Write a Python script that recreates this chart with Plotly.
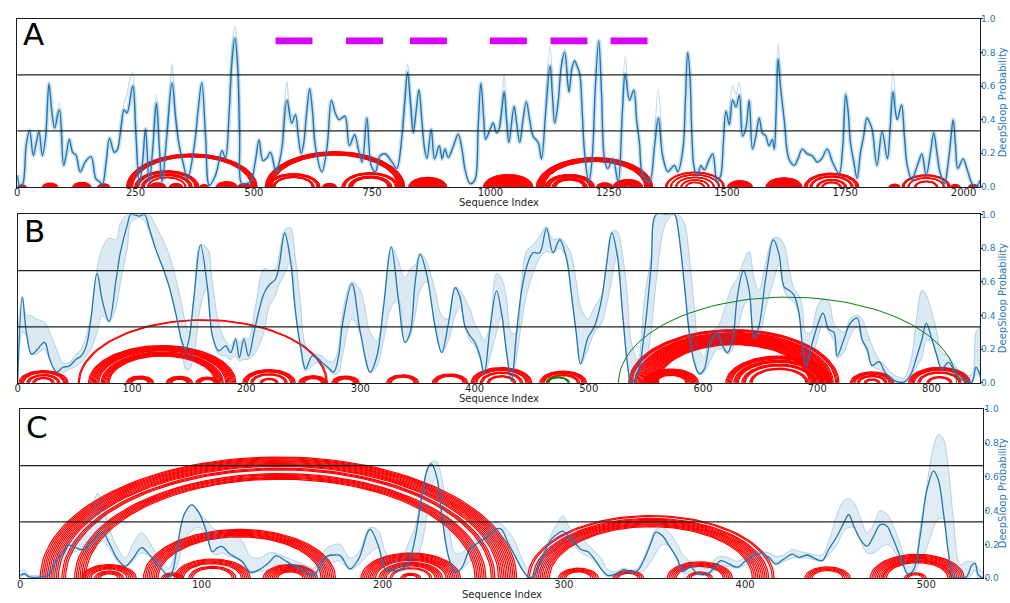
import numpy as np
import plotly.graph_objects as go

BLUE = "#1f77b4"
FONT = "DejaVu Sans"

# ---------------- Panel A ----------------
A_len = 2035
A_pos = [0, 6, 12, 19, 26, 34, 40, 46, 53, 60, 67, 73, 79, 89, 98, 104, 110, 117, 124, 133,
         144, 156, 166, 174, 180, 188, 195, 205, 212, 219, 226, 232, 244, 251, 258, 265, 271, 279, 287, 294,
         300, 306, 316, 327, 335, 342, 350, 360, 374, 382, 390, 398, 406, 419, 433, 440, 448, 454, 460, 466,
         470, 474, 483, 493, 503, 511, 519, 527, 535, 547, 554, 560, 570, 580, 588, 594, 600, 605, 612, 618,
         624, 630, 644, 655, 664, 672, 680, 686, 693, 702, 713, 721, 729, 739, 748, 757, 767, 778, 792, 802,
         813, 819, 825, 831, 837, 843, 849, 855, 861, 866, 875, 882, 892, 898, 904, 911, 922, 932, 941, 946,
         957, 967, 974, 980, 986, 990, 999, 1006, 1013, 1018, 1024, 1029, 1034, 1039, 1050, 1055, 1062, 1069, 1076, 1083,
         1090, 1101, 1108, 1117, 1126, 1131, 1136, 1143, 1150, 1157, 1166, 1172, 1178, 1183, 1189, 1194, 1199, 1208, 1215, 1222,
         1229, 1235, 1241, 1248, 1259, 1270, 1279, 1285, 1294, 1303, 1309, 1315, 1322, 1336, 1347, 1355, 1364, 1375, 1382, 1389,
         1396, 1407, 1412, 1417, 1422, 1426, 1431, 1438, 1445, 1452, 1463, 1470, 1479, 1487, 1492, 1498, 1505, 1512, 1519, 1526,
         1533, 1540, 1547, 1554, 1561, 1568, 1575, 1582, 1589, 1596, 1600, 1604, 1608, 1613, 1621, 1631, 1642, 1650, 1659, 1670,
         1680, 1691, 1700, 1712, 1723, 1737, 1745, 1751, 1756, 1761, 1768, 1775, 1782, 1789, 1796, 1802, 1807, 1817, 1828, 1839,
         1845, 1851, 1856, 1860, 1869, 1875, 1881, 1891, 1898, 1905, 1912, 1921, 1930, 1937, 1943, 1950, 1960, 1966, 1972, 1978,
         1983, 1988, 1999, 2007, 2018, 2027, 2035]
A_prob = [0.07, 0.0, 0.02, 0.25, 0.336, 0.186, 0.26, 0.33, 0.186, 0.30, 0.614, 0.45, 0.35, 0.458, 0.128, 0.20, 0.283, 0.206, 0.19, 0.09,
          0.15, 0.18, 0.05, 0.03, 0.015, 0.15, 0.29, 0.206, 0.225, 0.35, 0.458, 0.44, 0.60, 0.30, 0.02, 0.15, 0.345, 0.03, 0.25, 0.497,
          0.25, 0.03, 0.30, 0.617, 0.40, 0.25, 0.15, 0.05, 0.24, 0.45, 0.62, 0.30, 0.01, 0.07, 0.215, 0.17, 0.45, 0.75, 0.885, 0.70,
          0.30, 0.02, 0.02, 0.03, 0.15, 0.28, 0.157, 0.17, 0.206, 0.09, 0.15, 0.245, 0.516, 0.38, 0.43, 0.30, 0.20, 0.25, 0.45, 0.584,
          0.45, 0.243, 0.09, 0.243, 0.516, 0.44, 0.40, 0.41, 0.42, 0.245, 0.31, 0.225, 0.148, 0.41, 0.128, 0.09, 0.186, 0.196, 0.148, 0.11,
          0.30, 0.50, 0.68, 0.50, 0.322, 0.45, 0.578, 0.40, 0.225, 0.17, 0.342, 0.167, 0.245, 0.167, 0.225, 0.176, 0.245, 0.313, 0.206, 0.109,
          0.02, 0.04, 0.35, 0.617, 0.40, 0.283, 0.34, 0.38, 0.322, 0.34, 0.45, 0.565, 0.40, 0.264, 0.478, 0.39, 0.264, 0.40, 0.507, 0.40,
          0.303, 0.264, 0.167, 0.45, 0.72, 0.55, 0.38, 0.50, 0.72, 0.80, 0.565, 0.70, 0.75, 0.72, 0.67, 0.45, 0.206, 0.03, 0.167, 0.60,
          0.87, 0.55, 0.167, 0.109, 0.167, 0.03, 0.45, 0.672, 0.516, 0.575, 0.40, 0.264, 0.07, 0.03, 0.245, 0.41, 0.186, 0.09, 0.11, 0.128,
          0.09, 0.225, 0.50, 0.80, 0.65, 0.30, 0.11, 0.07, 0.128, 0.10, 0.167, 0.196, 0.03, 0.07, 0.25, 0.45, 0.37, 0.516, 0.476, 0.546,
          0.303, 0.35, 0.516, 0.225, 0.30, 0.41, 0.32, 0.303, 0.245, 0.283, 0.225, 0.45, 0.76, 0.60, 0.40, 0.167, 0.128, 0.167, 0.225, 0.196,
          0.186, 0.148, 0.167, 0.225, 0.148, 0.08, 0.25, 0.546, 0.45, 0.264, 0.15, 0.05, 0.20, 0.303, 0.41, 0.38, 0.34, 0.128, 0.33, 0.167,
          0.35, 0.565, 0.45, 0.40, 0.487, 0.30, 0.128, 0.04, 0.09, 0.148, 0.196, 0.07, 0.20, 0.322, 0.22, 0.09, 0.02, 0.11, 0.25, 0.40,
          0.25, 0.11, 0.167, 0.11, 0.02, 0.0, 0.04]
# alternative-model peaks that rise above the consensus line
A_alt_x = [80, 89, 95, None, 219, 226, 232, 238, 244, 250, 256, None, 287, 294, 300, None,
           316, 322, 327, 333, 340, None, 448, 454, 460, 466, 472, None, 560, 565, 570, 576, 582, None,
           813, 819, 825, 831, 837, None, 1018, 1024, 1029, 1034, 1040, None, 1117, 1126, 1131, None,
           1150, 1157, 1163, None, 1279, 1285, 1290, None, 1347, 1355, 1362, None,
           1505, 1512, 1519, 1526, 1533, None, 1604, 1608, 1613, None, 1745, 1751, 1756, None, 1845, 1851, 1856]
A_alt_y = [0.36, 0.50, 0.25, None, 0.30, 0.50, 0.55, 0.64, 0.68, 0.40, 0.05, None, 0.28, 0.55, 0.28, None,
           0.32, 0.55, 0.73, 0.50, 0.30, None, 0.50, 0.82, 0.96, 0.78, 0.30, None, 0.30, 0.50, 0.63, 0.45, 0.42, None,
           0.35, 0.55, 0.73, 0.55, 0.35, None, 0.36, 0.50, 0.67, 0.45, 0.27, None, 0.50, 0.84, 0.60, None,
           0.74, 0.82, 0.60, None, 0.50, 0.78, 0.60, None, 0.30, 0.58, 0.25, None,
           0.40, 0.60, 0.55, 0.62, 0.35, None, 0.50, 0.86, 0.65, None, 0.30, 0.57, 0.45, None, 0.40, 0.69, 0.50]
# helices: (5' start, 3' end, stacked pairs)
A_helices = [(1, 19, 8), (53, 86, 15), (117, 156, 18), (170, 196, 12),
             (231, 507, 14), (248, 384, 10), (262, 370, 8), (275, 357, 4), (279, 314, 15), (321, 350, 13),
             (385, 405, 9), (420, 465, 20), (466, 494, 12),
             (524, 819, 16), (528, 640, 8), (540, 628, 6), (645, 675, 13), (686, 806, 8), (700, 792, 10),
             (827, 908, 38), (985, 1090, 50),
             (1097, 1343, 18), (1115, 1220, 12), (1130, 1205, 10), (1224, 1259, 15), (1259, 1322, 28),
             (1370, 1495, 5), (1380, 1485, 4), (1391, 1474, 4), (1402, 1463, 4), (1412, 1453, 4),
             (1501, 1554, 24), (1582, 1659, 36),
             (1663, 1779, 8), (1675, 1767, 6), (1689, 1753, 6), (1700, 1742, 5),
             (1842, 1866, 10), (1870, 1972, 6), (1882, 1960, 4), (1896, 1946, 5),
             (1972, 1993, 9), (2010, 2031, 9)]
A_motif_start = [546, 695, 830, 999, 1127, 1254]
A_motif_end = [624, 773, 908, 1077, 1205, 1332]
A_motif_y = 0.868

# ---------------- Panel B ----------------
B_len = 842.6
B_pos = [0, 4, 7.5, 12, 16, 23.5, 28, 34, 39.5, 45, 51, 55.5, 60, 64, 69.4, 74, 80, 86, 90, 96,
         99, 106.5, 111, 115, 121, 127, 132.6, 138.4, 144, 147, 150, 154, 160, 166, 170.4, 176, 182, 186.4, 190.8, 194,
         198, 202, 208, 215.5, 220, 225.7, 228.6, 233.8, 238.8, 243, 247.5, 252, 257.7, 262, 266.5, 272, 276.6, 281, 284, 292.6,
         300, 308.6, 314.5, 320.3, 327, 333.4, 339, 343.6, 348, 352.3, 358, 365.4, 371.2, 377, 383, 387.2, 391.6, 396, 400.3, 404.7,
         408.4, 413.4, 419.2, 423.6, 428, 432.3, 436.7, 441, 445.4, 451.2, 457, 462.9, 468.7, 474.5, 480.3, 484.7, 489, 492.8, 499.2, 505,
         511, 515.2, 520.2, 524.8, 529.8, 534, 537, 543, 548.7, 554.5, 559, 567.6, 575, 578, 583.6, 588, 592.4, 596.7, 601, 605.5,
         610, 612.7, 617, 621.5, 626, 630, 635.4, 640.4, 644.7, 649, 655, 661.6, 666.6, 671, 675.3, 679.7, 684, 687, 690, 694.2,
         700, 705, 710.2, 714.6, 717.5, 723.3, 729, 735, 739.3, 743.7, 748, 754, 759.7, 767, 775.7, 781.5, 787.3, 791.7, 795.5, 800.4,
         804.8, 809, 815, 820.8, 828, 835.3, 839, 842.6]
B_prob = [0.02, 0.51, 0.30, 0.17, 0.19, 0.24, 0.14, 0.064, 0.093, 0.10, 0.14, 0.16, 0.22, 0.375, 0.65, 0.49, 0.365, 0.608, 0.78, 0.94,
          1.0, 0.99, 1.0, 0.92, 0.79, 0.685, 0.57, 0.41, 0.24, 0.20, 0.26, 0.49, 0.82, 0.57, 0.28, 0.19, 0.22, 0.18, 0.26, 0.15,
          0.26, 0.16, 0.336, 0.53, 0.58, 0.617, 0.685, 0.89, 0.724, 0.433, 0.22, 0.083, 0.16, 0.15, 0.12, 0.09, 0.064, 0.16, 0.336, 0.588,
          0.297, 0.064, 0.16, 0.452, 0.806, 0.49, 0.24, 0.30, 0.60, 0.763, 0.647, 0.336, 0.18, 0.35, 0.565, 0.51, 0.336, 0.28, 0.24, 0.16,
          0.054, 0.316, 0.546, 0.414, 0.18, 0.01, 0.297, 0.54, 0.685, 0.773, 0.773, 0.918, 0.773, 0.85, 0.744, 0.53, 0.297, 0.113, 0.268, 0.336,
          0.49, 0.685, 0.89, 0.763, 0.394, 0.103, 0.0, 0.064, 0.30, 0.685, 1.0, 1.0, 1.0, 0.92, 0.588, 0.297, 0.122, 0.054, 0.08, 0.22,
          0.28, 0.297, 0.22, 0.18, 0.26, 0.51, 0.666, 0.55, 0.268, 0.336, 0.627, 0.85, 0.763, 0.57, 0.55, 0.52, 0.414, 0.22, 0.103, 0.20,
          0.336, 0.414, 0.316, 0.30, 0.16, 0.258, 0.355, 0.384, 0.258, 0.20, 0.103, 0.126, 0.06, 0.015, 0.005, 0.045, 0.16, 0.258, 0.355, 0.258,
          0.16, 0.083, 0.122, 0.06, 0.015, 0.005, 0.093, 0.045]
B_low = [0.0, 0.30, 0.28, 0.17, 0.17, 0.20, 0.14, 0.06, 0.06, 0.08, 0.10, 0.12, 0.16, 0.20, 0.30, 0.40, 0.36, 0.45, 0.60, 0.80,
         0.95, 0.98, 0.96, 0.90, 0.79, 0.68, 0.57, 0.41, 0.20, 0.08, 0.08, 0.15, 0.45, 0.57, 0.28, 0.17, 0.16, 0.14, 0.16, 0.13,
         0.14, 0.14, 0.18, 0.30, 0.45, 0.52, 0.58, 0.65, 0.72, 0.43, 0.20, 0.07, 0.10, 0.12, 0.10, 0.08, 0.05, 0.06, 0.15, 0.38,
         0.29, 0.06, 0.10, 0.25, 0.45, 0.49, 0.24, 0.28, 0.40, 0.55, 0.60, 0.33, 0.18, 0.25, 0.40, 0.45, 0.33, 0.25, 0.22, 0.14,
         0.05, 0.15, 0.30, 0.40, 0.18, 0.01, 0.15, 0.35, 0.52, 0.65, 0.74, 0.78, 0.77, 0.80, 0.74, 0.53, 0.29, 0.11, 0.20, 0.30,
         0.35, 0.45, 0.62, 0.76, 0.39, 0.10, 0.0, 0.04, 0.10, 0.30, 0.60, 0.95, 1.0, 0.92, 0.58, 0.29, 0.11, 0.05, 0.06, 0.12,
         0.18, 0.20, 0.20, 0.17, 0.20, 0.30, 0.45, 0.50, 0.26, 0.28, 0.45, 0.60, 0.70, 0.55, 0.50, 0.48, 0.40, 0.20, 0.08, 0.15,
         0.25, 0.35, 0.30, 0.25, 0.15, 0.18, 0.28, 0.33, 0.25, 0.18, 0.10, 0.08, 0.05, 0.01, 0.0, 0.03, 0.10, 0.15, 0.25, 0.25,
         0.16, 0.08, 0.08, 0.05, 0.01, 0.0, 0.05, 0.03]
B_high = [0.30, 0.51, 0.40, 0.40, 0.38, 0.36, 0.30, 0.20, 0.12, 0.12, 0.17, 0.20, 0.28, 0.40, 0.68, 0.80, 0.86, 0.85, 0.95, 1.0,
          1.0, 1.0, 1.0, 1.0, 0.93, 0.85, 0.76, 0.62, 0.45, 0.35, 0.30, 0.50, 0.82, 0.80, 0.60, 0.35, 0.25, 0.22, 0.27, 0.24,
          0.27, 0.26, 0.45, 0.68, 0.67, 0.68, 0.75, 0.91, 0.92, 0.75, 0.48, 0.22, 0.17, 0.17, 0.16, 0.13, 0.13, 0.22, 0.40, 0.60,
          0.55, 0.30, 0.25, 0.47, 0.81, 0.72, 0.62, 0.68, 0.70, 0.77, 0.72, 0.55, 0.40, 0.38, 0.57, 0.55, 0.50, 0.44, 0.35, 0.30,
          0.25, 0.34, 0.65, 0.62, 0.50, 0.30, 0.30, 0.60, 0.78, 0.82, 0.87, 0.93, 0.85, 0.86, 0.82, 0.76, 0.60, 0.45, 0.38, 0.45,
          0.52, 0.70, 0.90, 0.90, 0.75, 0.50, 0.25, 0.14, 0.50, 0.75, 1.0, 1.0, 1.0, 1.0, 0.95, 0.75, 0.45, 0.20, 0.15, 0.30,
          0.32, 0.33, 0.40, 0.50, 0.58, 0.62, 0.72, 0.78, 0.62, 0.55, 0.72, 0.86, 0.86, 0.82, 0.68, 0.56, 0.52, 0.45, 0.30, 0.30,
          0.45, 0.50, 0.48, 0.35, 0.33, 0.30, 0.38, 0.40, 0.38, 0.30, 0.22, 0.14, 0.10, 0.05, 0.03, 0.12, 0.40, 0.55, 0.52, 0.42,
          0.30, 0.18, 0.16, 0.10, 0.05, 0.05, 0.30, 0.33]
B_helices = [(1, 44, 5), (8, 37, 3), (13, 32, 3), (53, 271, 2), (62, 191, 10), (73, 180, 8),
             (95, 119, 6), (130, 153, 6), (156, 176, 5), (197, 243, 5), (204, 236, 3), (212, 228, 3),
             (246, 271, 6), (275, 299, 6), (323, 351, 5), (363, 394, 5),
             (397, 450, 6), (405, 442, 3), (411, 436, 3), (457, 498, 5), (463, 492, 3),
             (535, 719, 4), (540, 714, 22), (548, 596, 8), (556, 588, 4),
             (620, 713, 6), (627, 706, 5), (634, 699, 4), (641, 692, 3),
             (729, 767, 5), (735, 761, 3), (741, 755, 3), (780, 834, 6), (788, 826, 3), (796, 818, 3)]
B_alt_helices = [(463, 483, 2)]
B_long_helix = [(526, 822, 1)]

# ---------------- Panel C ----------------
C_len = 531.5
C_pos = [0, 2.4, 5, 10.6, 15.2, 19.8, 23.5, 27, 30.8, 35.4, 39, 42.7, 45.5, 49, 53.7, 58, 62, 67, 71, 74.8,
         78.5, 82, 84, 86.7, 90.4, 94.6, 98.7, 102.3, 106, 108.8, 111.5, 115, 118.8, 122.5, 127, 131.7, 137, 141.2, 145.4, 150,
         154.6, 159.2, 162, 165.6, 169.3, 173.9, 176.6, 182, 186.7, 193, 197.7, 201.3, 206, 210.5, 214, 217.8, 221.5, 224.8, 227, 229.8,
         232.5, 236.2, 239.9, 243.5, 248.1, 252.7, 258.2, 262.8, 265.5, 269.2, 272.9, 277.5, 281.1, 283.9, 288.5, 293, 296.7, 299.5, 303.1, 306.8,
         309.5, 313.2, 316.9, 320.6, 324.2, 328.8, 333, 337, 340.7, 344.4, 348.1, 350.8, 354.5, 358.2, 362.7, 365.5, 370, 373.8, 379.3, 383.9,
         386.6, 391.2, 395.8, 400.4, 405, 408.6, 413.2, 416.9, 421.5, 426, 429.7, 434.3, 438, 442.5, 446.2, 450.8, 454.5, 457.2, 460, 463.6,
         467.3, 471, 474.6, 478.3, 481, 484.7, 487.5, 489.7, 493, 496.6, 500.3, 504, 506.7, 509.5, 512.2, 515, 518.7, 522.3, 525, 526.9,
         528.7, 531.5]
C_prob = [0.017, 0.027, 0.008, 0.008, 0.017, 0.10, 0.15, 0.196, 0.18, 0.17, 0.21, 0.25, 0.273, 0.21, 0.114, 0.072, 0.114, 0.182, 0.143, 0.095,
          0.05, 0.008, 0.04, 0.19, 0.376, 0.434, 0.386, 0.29, 0.157, 0.18, 0.188, 0.15, 0.124, 0.10, 0.037, 0.05, 0.09, 0.134, 0.11, 0.08,
          0.06, 0.027, 0.017, 0.075, 0.13, 0.138, 0.134, 0.056, 0.114, 0.289, 0.19, 0.056, 0.046, 0.056, 0.085, 0.23, 0.48, 0.647, 0.676, 0.60,
          0.386, 0.134, 0.037, 0.06, 0.172, 0.21, 0.25, 0.293, 0.29, 0.21, 0.134, 0.045, 0.002, 0.027, 0.134, 0.23, 0.265, 0.279, 0.24, 0.20,
          0.17, 0.157, 0.114, 0.056, 0.017, 0.027, 0.052, 0.037, 0.046, 0.114, 0.21, 0.273, 0.25, 0.19, 0.114, 0.04, 0.066, 0.027, 0.027, 0.075,
          0.105, 0.085, 0.066, 0.105, 0.138, 0.149, 0.124, 0.085, 0.114, 0.143, 0.124, 0.138, 0.12, 0.105, 0.172, 0.25, 0.328, 0.376, 0.308, 0.23,
          0.19, 0.25, 0.318, 0.308, 0.25, 0.153, 0.075, 0.027, 0.05, 0.25, 0.52, 0.634, 0.58, 0.386, 0.153, 0.008, 0.0, 0.01, 0.075, 0.089,
          0.02, 0.0]
C_low = [0.01, 0.02, 0.0, 0.0, 0.0, 0.05, 0.10, 0.13, 0.16, 0.17, 0.18, 0.20, 0.22, 0.18, 0.10, 0.07, 0.10, 0.15, 0.13, 0.08,
         0.05, 0.0, 0.02, 0.08, 0.22, 0.28, 0.30, 0.26, 0.15, 0.14, 0.15, 0.13, 0.12, 0.09, 0.03, 0.04, 0.05, 0.08, 0.08, 0.06,
         0.04, 0.02, 0.01, 0.04, 0.08, 0.10, 0.10, 0.05, 0.08, 0.15, 0.18, 0.05, 0.04, 0.04, 0.06, 0.10, 0.20, 0.40, 0.55, 0.60,
         0.38, 0.13, 0.03, 0.05, 0.10, 0.15, 0.20, 0.22, 0.24, 0.20, 0.13, 0.04, 0.0, 0.01, 0.06, 0.15, 0.20, 0.22, 0.22, 0.18,
         0.15, 0.13, 0.10, 0.05, 0.01, 0.02, 0.03, 0.03, 0.03, 0.05, 0.10, 0.15, 0.20, 0.19, 0.10, 0.03, 0.03, 0.02, 0.02, 0.05,
         0.07, 0.07, 0.06, 0.08, 0.10, 0.12, 0.11, 0.08, 0.10, 0.12, 0.12, 0.12, 0.11, 0.10, 0.14, 0.20, 0.28, 0.30, 0.30, 0.22,
         0.15, 0.15, 0.18, 0.20, 0.18, 0.12, 0.06, 0.02, 0.03, 0.10, 0.18, 0.30, 0.35, 0.35, 0.15, 0.0, 0.0, 0.0, 0.02, 0.05,
         0.0, 0.0]
C_high = [0.04, 0.05, 0.02, 0.02, 0.04, 0.12, 0.17, 0.22, 0.22, 0.28, 0.40, 0.50, 0.45, 0.30, 0.18, 0.12, 0.20, 0.27, 0.22, 0.15,
          0.10, 0.06, 0.10, 0.20, 0.376, 0.434, 0.386, 0.35, 0.30, 0.28, 0.24, 0.24, 0.25, 0.22, 0.13, 0.12, 0.15, 0.15, 0.13, 0.11,
          0.09, 0.07, 0.06, 0.12, 0.18, 0.20, 0.20, 0.12, 0.15, 0.30, 0.28, 0.16, 0.10, 0.12, 0.20, 0.30, 0.50, 0.66, 0.69, 0.69,
          0.60, 0.35, 0.15, 0.15, 0.20, 0.26, 0.31, 0.33, 0.32, 0.28, 0.22, 0.10, 0.04, 0.08, 0.15, 0.26, 0.33, 0.37, 0.30, 0.25,
          0.24, 0.20, 0.16, 0.12, 0.05, 0.04, 0.06, 0.05, 0.06, 0.13, 0.23, 0.29, 0.30, 0.27, 0.20, 0.14, 0.10, 0.08, 0.06, 0.12,
          0.13, 0.12, 0.10, 0.13, 0.16, 0.16, 0.15, 0.13, 0.14, 0.17, 0.16, 0.15, 0.14, 0.14, 0.22, 0.38, 0.46, 0.47, 0.45, 0.36,
          0.27, 0.32, 0.40, 0.38, 0.33, 0.23, 0.14, 0.07, 0.08, 0.30, 0.55, 0.78, 0.85, 0.82, 0.65, 0.35, 0.08, 0.10, 0.10, 0.09,
          0.06, 0.03]
C_helices = [(11, 274, 11), (23, 262, 3), (30, 257, 7), (34, 64, 6), (41, 57, 4), (68, 174, 9),
             (78, 90, 4), (85, 127, 6), (93, 119, 3), (134, 164, 6), (140, 158, 3),
             (188, 243, 9), (198, 233, 5), (204, 227, 2), (210, 221, 3),
             (280, 416, 2), (283, 413, 10), (297, 319, 5), (327, 344, 4),
             (357, 393, 6), (368, 382, 3), (433, 458, 5), (469, 521, 8), (476, 514, 3), (488, 500, 3)]

thresholds = [1 / 3, 2 / 3]
ARC_SCALE = 2.9  # arc apex height per unit of (radius / sequence length)


def arc_path(helices, length):
    """Half-ellipse per base pair (i, j), apex proportional to the pair span."""
    k = ARC_SCALE / length
    xs, ys = [], []
    for i, j, n in helices:
        for m in range(n):
            a, b = i + m, j - m
            if b - a < 1:
                break
            r = (b - a) / 2
            t = np.linspace(0, np.pi, 64 if r > 30 else 28)
            xs.extend(((a + b) / 2 + r * np.cos(t)).tolist())
            ys.extend((k * r * np.sin(t)).tolist())
            xs.append(None)
            ys.append(None)
    return xs, ys


W, H = 1010, 603
# pixel geometry of each panel; letter_top is where the capital of the panel letter starts
panels = [
    dict(name="A", xa="x", ya="y", left=14.3, right=980, top=14, bottom=185, length=A_len, dtick=250, letter_top=20),
    dict(name="B", xa="x2", ya="y2", left=14.8, right=980, top=213, bottom=384.3, length=B_len, dtick=100, letter_top=220),
    dict(name="C", xa="x3", ya="y3", left=17.3, right=983.3, top=411, bottom=583, length=C_len, dtick=100, letter_top=420),
]

fig = go.Figure()


def add_arcs(helices, p, color, width):
    xs, ys = arc_path(helices, p["length"])
    fig.add_trace(go.Scatter(x=xs, y=ys, mode="lines", line=dict(color=color, width=width),
                             xaxis=p["xa"], yaxis=p["ya"], hoverinfo="skip"))


pA, pB, pC = panels

# Panel A
add_arcs(A_helices, pA, "#ff0000", 1.0)
fig.add_trace(go.Scatter(x=A_pos, y=A_prob, mode="lines", line=dict(color="rgba(31,119,180,0.22)", width=4.5, shape="spline"),
                         xaxis="x", yaxis="y"))
fig.add_trace(go.Scatter(x=A_alt_x, y=A_alt_y, mode="lines", connectgaps=False,
                         line=dict(color="rgba(31,119,180,0.28)", width=1.2, shape="spline"), xaxis="x", yaxis="y"))
fig.add_trace(go.Scatter(x=A_pos, y=A_prob, mode="lines", line=dict(color=BLUE, width=1.4, shape="spline"),
                         xaxis="x", yaxis="y"))

# Panel B
add_arcs(B_helices, pB, "#ff0000", 1.2)
add_arcs(B_alt_helices, pB, "#008000", 1.3)
add_arcs(B_long_helix, pB, "#008000", 1.0)
fig.add_trace(go.Scatter(x=B_pos, y=B_low, mode="lines", line=dict(color="rgba(31,119,180,0.28)", width=1, shape="spline"),
                         xaxis="x2", yaxis="y2"))
fig.add_trace(go.Scatter(x=B_pos, y=B_high, mode="lines", fill="tonexty", fillcolor="rgba(31,119,180,0.16)",
                         line=dict(color="rgba(31,119,180,0.28)", width=1, shape="spline"), xaxis="x2", yaxis="y2"))
fig.add_trace(go.Scatter(x=B_pos, y=B_prob, mode="lines", line=dict(color=BLUE, width=1.3, shape="spline"),
                         xaxis="x2", yaxis="y2"))

# Panel C
add_arcs(C_helices, pC, "#ff0000", 1.2)
fig.add_trace(go.Scatter(x=C_pos, y=C_low, mode="lines", line=dict(color="rgba(31,119,180,0.28)", width=1, shape="spline"),
                         xaxis="x3", yaxis="y3"))
fig.add_trace(go.Scatter(x=C_pos, y=C_high, mode="lines", fill="tonexty", fillcolor="rgba(31,119,180,0.14)",
                         line=dict(color="rgba(31,119,180,0.28)", width=1, shape="spline"), xaxis="x3", yaxis="y3"))
fig.add_trace(go.Scatter(x=C_pos, y=C_prob, mode="lines", line=dict(color=BLUE, width=1.3, shape="spline"),
                         xaxis="x3", yaxis="y3"))

shapes = []
annotations = []
layout = {}
for p in panels:
    xkey = "xaxis" + p["xa"][1:]
    ykey = "yaxis" + p["ya"][1:]
    layout[xkey] = dict(
        domain=[p["left"] / W, p["right"] / W], anchor=p["ya"], range=[0, p["length"]],
        tick0=0, dtick=p["dtick"], ticks="", showgrid=False, zeroline=False,
        showline=True, mirror=True, linecolor="#1a1a1a", linewidth=1.4,
        tickfont=dict(family=FONT, size=10, color="#262626"), ticklabelstandoff=-4,
    )
    layout[ykey] = dict(
        domain=[1 - p["bottom"] / H, 1 - p["top"] / H], anchor=p["xa"], side="right", range=[0, 1],
        tick0=0, dtick=0.2, tickformat=".1f", ticks="outside", ticklen=2, tickcolor="#1a1a1a",
        showgrid=False, zeroline=False, showline=True, mirror=True, linecolor="#1a1a1a", linewidth=1.4,
        tickfont=dict(family=FONT, size=9, color=BLUE), ticklabelstandoff=-4,
    )
    for t in thresholds:
        shapes.append(dict(type="line", xref=p["xa"] + " domain", yref=p["ya"], x0=0, x1=1, y0=t, y1=t,
                           line=dict(color="#222222", width=1.2)))
    # panel letter
    annotations.append(dict(text=p["name"], xref="paper", yref="paper", x=(p["left"] + 4) / W,
                            y=1 - (p["letter_top"] - 11) / H, xanchor="left", yanchor="top", showarrow=False,
                            font=dict(family=FONT, size=31, color="black")))
    # x axis title
    annotations.append(dict(text="Sequence Index", xref="paper", yref="paper",
                            x=(p["left"] + p["right"]) / 2 / W, y=1 - (p["bottom"] + 16) / H,
                            xanchor="center", yanchor="middle", showarrow=False,
                            font=dict(family=FONT, size=10, color="#262626")))
    # right y axis title
    annotations.append(dict(text="DeepSloop Probability", xref="paper", yref="paper", textangle=-90,
                            x=1002.5 / W, y=1 - (p["top"] + p["bottom"]) / 2 / H,
                            xanchor="center", yanchor="middle", showarrow=False,
                            font=dict(family=FONT, size=10, color=BLUE)))

for s, e in zip(A_motif_start, A_motif_end):
    shapes.append(dict(type="rect", xref="x", yref="y", x0=s, x1=e, y0=A_motif_y - 0.02, y1=A_motif_y + 0.02,
                       fillcolor="#d900ff", line=dict(width=0)))

fig.update_layout(
    width=W, height=H, margin=dict(l=0, r=0, t=0, b=0),
    paper_bgcolor="white", plot_bgcolor="white", showlegend=False,
    shapes=shapes, annotations=annotations, font=dict(family=FONT), **layout,
)

fig.write_html("out.html")
